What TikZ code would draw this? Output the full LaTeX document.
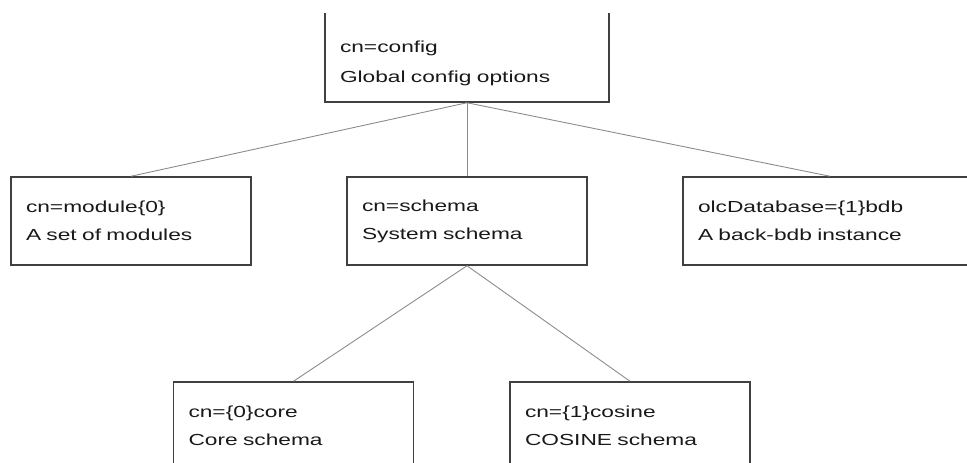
\documentclass[tikz,border=0pt]{standalone}
\usepackage{fontspec}
\setmainfont[FakeStretch=1.42]{Liberation Sans}

\tikzset{
  entry/.style={draw=black!75, line width=1.5pt, rectangle, align=left,
    minimum height=88pt, inner xsep=15pt, inner ysep=0pt, text width=210pt,
    font=\fontsize{16}{28}\selectfont, text=black!90},
  link/.style={draw=black!45, line width=0.9pt}
}

\begin{document}
\begin{tikzpicture}[x=1pt,y=-1pt]
\useasboundingbox (0,0) rectangle (967,463);
\clip (0,13.2) rectangle (967,463);

\node[entry,minimum height=90pt,text width=254pt,font=\fontsize{16}{30}\selectfont,
  execute at begin node={\rule{0pt}{24pt}}] (config) at (467,57) {cn=config\\Global config options};

\node[entry] (module) at (131,221) {cn=module\{0\}\\A set of modules};
\node[entry] (schema) at (467,221) {cn=schema\\System schema};
\node[entry,text width=264pt] (olcdb) at (830,221) {olcDatabase=\{1\}bdb\\A back-bdb instance};

\node[entry] (core) at (293.5,426) {cn=\{0\}core\\Core schema};
\node[entry] (cosine) at (630,426) {cn=\{1\}cosine\\COSINE schema};

\draw[link] (config.south) -- (module.north);
\draw[link] (config.south) -- (schema.north);
\draw[link] (config.south) -- (olcdb.north);

\draw[link] (schema.south) -- (core.north);
\draw[link] (schema.south) -- (cosine.north);

\end{tikzpicture}
\end{document}
